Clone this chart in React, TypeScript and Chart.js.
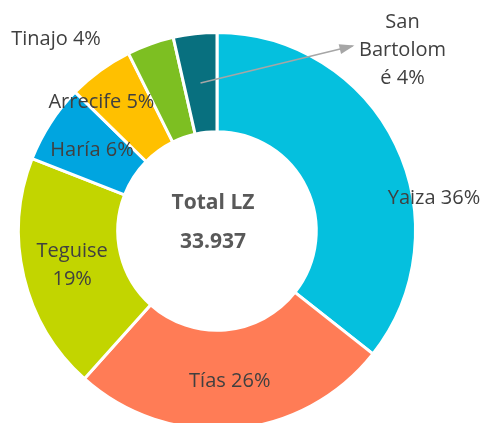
import React, { useEffect, useRef } from "react";
import { Chart, registerables } from "chart.js";

Chart.register(...registerables);

const categories = ["Yaiza", "Tías", "Teguise", "Haría", "Arrecife", "Tinajo", "San Bartolomé"];
const values = [12090, 8830, 6550, 2170, 1800, 1297, 1200];
const colors = ["#05C0DE", "#FF7C56", "#C2D500", "#00A5E0", "#FFC000", "#7DBF22", "#08707F"];
const centerTitle = "Total LZ";
// where label text wraps (character indices in "name pct%")
const labelBreaks: number[][] = [[], [], [7], [], [], [], [3, 12]];
// label displacement from slice centroid (px)
const labelOffsets: [number, number][] = [
  [83, 32],
  [0, 2],
  [0, 0],
  [0, 0],
  [-28, -8],
  [-111, -51],
  [202, -33],
];
const leaderLine = [false, false, false, false, false, false, true];

const LABEL_FONT = "20px 'Open Sans', sans-serif";
const CENTER_FONT = "bold 21px 'Open Sans', sans-serif";

function formatTotal(n: number): string {
  return String(n).replace(/\B(?=(\d{3})+(?!\d))/g, ".");
}

function splitLines(text: string, breaks: number[]): string[] {
  if (!breaks.length) return [text];
  const out: string[] = [];
  let start = 0;
  for (const b of breaks) {
    out.push(text.slice(start, b).trim());
    start = b;
  }
  out.push(text.slice(start).trim());
  return out;
}

const labelPlugin = {
  id: "sliceLabels",
  afterDatasetsDraw(chart: any) {
    const ctx = chart.ctx as CanvasRenderingContext2D;
    const meta = chart.getDatasetMeta(0);
    const data = chart.data.datasets[0].data as number[];
    const total = data.reduce((a, b) => a + b, 0);
    ctx.save();
    ctx.font = LABEL_FONT;
    ctx.fillStyle = "#404040";
    ctx.textAlign = "center";
    ctx.textBaseline = "middle";
    const lineH = 28;
    meta.data.forEach((arc: any, i: number) => {
      const p = arc.tooltipPosition();
      const pct = Math.round((data[i] / total) * 100);
      const text = `${categories[i]} ${pct}%`;
      const lines = splitLines(text, labelBreaks[i]);
      const lx = p.x + labelOffsets[i][0];
      const ly = p.y + labelOffsets[i][1];
      if (leaderLine[i]) {
        const ex = lx - 50;
        const ey = ly - 4;
        ctx.strokeStyle = "#A6A6A6";
        ctx.lineWidth = 1.5;
        ctx.beginPath();
        ctx.moveTo(p.x, p.y);
        ctx.lineTo(ex, ey);
        ctx.stroke();
        const ang = Math.atan2(ey - p.y, ex - p.x);
        const len = 13;
        const w = 5;
        ctx.fillStyle = "#A6A6A6";
        ctx.beginPath();
        ctx.moveTo(ex + Math.cos(ang) * 2, ey + Math.sin(ang) * 2);
        ctx.lineTo(ex - Math.cos(ang) * len - Math.sin(ang) * w, ey - Math.sin(ang) * len + Math.cos(ang) * w);
        ctx.lineTo(ex - Math.cos(ang) * len + Math.sin(ang) * w, ey - Math.sin(ang) * len - Math.cos(ang) * w);
        ctx.closePath();
        ctx.fill();
        ctx.fillStyle = "#404040";
      }
      const startY = ly - ((lines.length - 1) * lineH) / 2;
      lines.forEach((ln, k) => ctx.fillText(ln, lx, startY + k * lineH));
    });
    // center text
    const first = meta.data[0];
    if (first) {
      const cx = first.x;
      const cy = first.y;
      ctx.font = CENTER_FONT;
      ctx.fillStyle = "#595959";
      ctx.fillText(centerTitle, cx - 4, cy - 28);
      ctx.fillText(formatTotal(total), cx - 4, cy + 11);
    }
    ctx.restore();
  },
};

export default function App() {
  const ref = useRef<HTMLCanvasElement>(null);
  useEffect(() => {
    if (!ref.current) return;
    const chart = new Chart(ref.current, {
      type: "doughnut",
      data: {
        labels: categories,
        datasets: [
          {
            data: values,
            backgroundColor: colors,
            borderColor: "#FFFFFF",
            borderWidth: 3,
          },
        ],
      },
      options: {
        responsive: false,
        animation: false,
        cutout: "50%",
        layout: { padding: { left: 17, right: 68, top: 31, bottom: 29 } },
        plugins: {
          legend: { display: false },
          tooltip: { enabled: false },
          title: { display: false },
        },
      },
      plugins: [labelPlugin],
    });
    return () => chart.destroy();
  }, []);
  return (
    <div
      style={{
        position: "fixed",
        top: 0,
        left: 0,
        width: 485,
        height: 423,
        overflow: "hidden",
        background: "#FFFFFF",
      }}
    >
      <canvas ref={ref} width={485} height={460} style={{ width: 485, height: 460, display: "block" }} />
    </div>
  );
}
